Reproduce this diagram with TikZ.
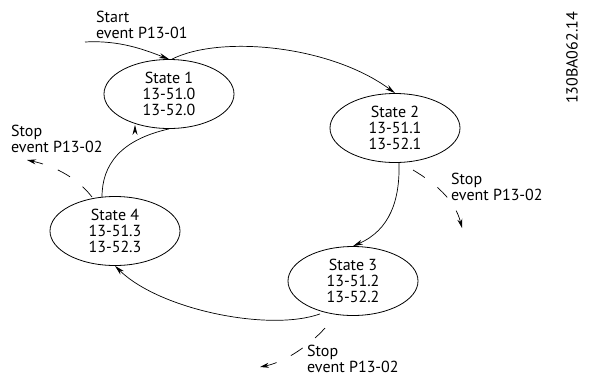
\documentclass[tikz,border=0pt]{standalone}
\usepackage{fontspec}
\setmainfont{PT Sans}
\usetikzlibrary{shapes.geometric,arrows.meta}
\begin{document}
\begin{tikzpicture}[x=1pt,y=-1pt,
  every node/.style={font=\fontsize{16}{16}\selectfont},
  statebox/.style={ellipse,draw,line width=0.8pt,minimum width=130pt,minimum height=69pt,inner sep=0pt,align=center},
  lbl/.style={align=left,anchor=north west,inner sep=0pt},
  conn/.style={line width=0.7pt,-{Stealth[length=10pt,width=5pt]}},
  dconn/.style={line width=0.7pt,dash pattern=on 14pt off 16pt,-{Stealth[length=9pt,width=5pt]}}]
\useasboundingbox (0,0) rectangle (594,376);
\node[statebox] (s1) at (169,94) {State 1\\13-51.0\\13-52.0};
\node[statebox] (s2) at (395,128) {State 2\\13-51.1\\13-52.1};
\node[statebox] (s3) at (353,281) {State 3\\13-51.2\\13-52.2};
\node[statebox] (s4) at (115,231) {State 4\\13-51.3\\13-52.3};
\node[lbl] (tstart) at (96,11) {Start\\event P13-01};
\node[lbl] (tstop1) at (11,125) {Stop\\event P13-02};
\node[lbl] (tstop2) at (451,173) {Stop\\event P13-02};
\node[lbl] (tstop3) at (307,345) {Stop\\event P13-02};
\node[rotate=90,inner sep=0pt] (code) at (572,58) {130BA062.14};
\coordinate (st) at (85,42);
\draw[conn] (st) .. controls (120,40) and (145,50) .. (s1.north);
\draw[conn] (s1.north) ++(3,0) coordinate (a1) .. controls (220,35) and (330,45) .. (s2.north);
\draw[conn] (s2.south) ++(4,0) coordinate (a2) .. controls (400,200) and (390,230) .. (s3.north);
\draw[conn] (s3.south) ++(-33,-2) coordinate (a3) .. controls (270,332) and (160,310) .. (s4.south);
\draw[conn] (s4.north) ++(-13,1) coordinate (a4) .. controls (102,165) and (120,140) .. (s1.south) ++(-34,-4) coordinate (b4);
\coordinate (d1s) at (92,197);
\coordinate (d1e) at (27,160);
\draw[dconn] (d1s) .. controls (75,175) and (50,165) .. (d1e);
\coordinate (d2s) at (413,170);
\coordinate (d2e) at (462,228);
\draw[dconn] (d2s) .. controls (435,183) and (455,200) .. (d2e);
\coordinate (d3s) at (325,328);
\coordinate (d3e) at (260,367);
\draw[dconn] (d3s) .. controls (310,345) and (285,362) .. (d3e);
\end{tikzpicture}
\end{document}
